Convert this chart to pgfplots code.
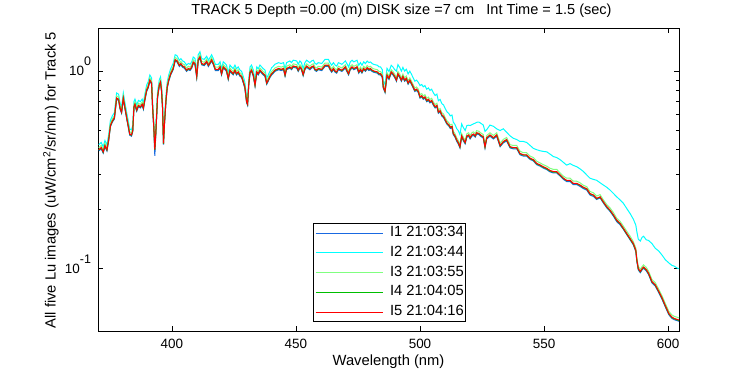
\documentclass[border=0pt]{standalone}
\usepackage{pgfplots}
\pgfplotsset{compat=1.18}
\usepackage{pgfplotstable}
\usepackage{fontspec}
\setmainfont{Liberation Sans}
\definecolor{cI1}{RGB}{25,105,225}
\definecolor{cI2}{RGB}{0,255,255}
\definecolor{cI3}{RGB}{128,255,128}
\definecolor{cI4}{RGB}{0,190,0}
\definecolor{cI5}{RGB}{255,0,0}
\pgfplotstableread{
wl a b c d e
370.5 0.394 0.424 0.410 0.398 0.40
371.5 0.404 0.435 0.420 0.408 0.41
372.3 0.384 0.413 0.400 0.388 0.39
373.0 0.414 0.445 0.431 0.418 0.42
373.8 0.394 0.424 0.410 0.398 0.40
374.5 0.443 0.477 0.461 0.448 0.45
375.2 0.522 0.562 0.543 0.527 0.53
376.0 0.552 0.594 0.574 0.557 0.56
376.8 0.571 0.615 0.595 0.577 0.58
377.7 0.719 0.774 0.748 0.726 0.73
378.5 0.709 0.763 0.738 0.716 0.72
379.1 0.640 0.689 0.666 0.647 0.65
379.7 0.611 0.657 0.636 0.617 0.62
380.4 0.719 0.774 0.748 0.726 0.73
381.0 0.650 0.700 0.677 0.657 0.66
381.9 0.561 0.604 0.584 0.567 0.57
383.0 0.473 0.509 0.492 0.478 0.48
383.7 0.468 0.504 0.487 0.473 0.475
384.2 0.493 0.530 0.513 0.498 0.50
384.7 0.650 0.700 0.677 0.657 0.66
385.1 0.670 0.721 0.697 0.677 0.68
385.8 0.625 0.673 0.651 0.632 0.635
386.5 0.660 0.710 0.687 0.667 0.67
387.3 0.650 0.700 0.677 0.657 0.66
388.0 0.670 0.721 0.697 0.677 0.68
388.5 0.640 0.689 0.666 0.647 0.65
389.0 0.699 0.753 0.728 0.706 0.71
389.8 0.788 0.848 0.820 0.796 0.80
390.4 0.818 0.880 0.851 0.826 0.83
391.1 0.887 0.954 0.923 0.896 0.90
391.8 0.857 0.922 0.892 0.866 0.87
392.2 0.650 0.700 0.677 0.657 0.66
392.7 0.512 0.551 0.533 0.517 0.52
393.1 0.372 0.424 0.410 0.398 0.40
393.5 0.478 0.514 0.497 0.483 0.485
394.2 0.729 0.784 0.759 0.736 0.74
394.9 0.837 0.901 0.871 0.846 0.85
395.4 0.867 0.933 0.902 0.876 0.88
395.8 0.788 0.848 0.820 0.796 0.80
396.2 0.650 0.700 0.677 0.657 0.66
396.6 0.424 0.456 0.441 0.428 0.43
397.0 0.537 0.578 0.559 0.542 0.545
397.6 0.699 0.753 0.728 0.706 0.71
398.1 0.818 0.880 0.851 0.826 0.83
398.7 0.887 0.954 0.923 0.896 0.90
399.5 0.955 1.028 0.994 0.965 0.97
400.5 1.015 1.092 1.056 1.025 1.03
401.3 1.123 1.208 1.169 1.134 1.14
402.0 1.113 1.198 1.158 1.124 1.13
403.0 1.054 1.134 1.097 1.065 1.07
403.6 1.074 1.155 1.117 1.085 1.09
404.3 1.044 1.124 1.087 1.055 1.06
405.0 1.034 1.113 1.076 1.045 1.05
405.9 0.995 1.071 1.035 1.005 1.01
406.6 1.015 1.092 1.056 1.025 1.03
407.3 1.005 1.081 1.046 1.015 1.02
408.0 1.034 1.113 1.076 1.045 1.05
408.6 1.093 1.177 1.138 1.104 1.11
409.3 1.074 1.155 1.117 1.085 1.09
410.0 0.926 0.996 0.964 0.935 0.94
410.6 1.123 1.208 1.169 1.134 1.14
411.3 1.162 1.251 1.210 1.174 1.18
412.0 1.074 1.155 1.117 1.085 1.09
413.0 1.064 1.145 1.107 1.075 1.08
414.0 1.103 1.187 1.148 1.114 1.12
414.7 1.054 1.134 1.097 1.065 1.07
415.3 1.084 1.166 1.128 1.095 1.10
416.0 1.123 1.208 1.169 1.134 1.14
416.7 1.074 1.155 1.117 1.085 1.09
417.5 1.005 1.081 1.046 1.015 1.02
418.7 1.005 1.081 1.046 1.015 1.02
419.4 1.034 1.113 1.076 1.045 1.05
420.0 0.955 1.028 0.994 0.965 0.97
420.7 1.034 1.113 1.076 1.045 1.05
421.4 1.015 1.092 1.056 1.025 1.03
422.0 0.995 1.071 1.035 1.005 1.01
422.7 0.906 0.975 0.943 0.915 0.92
423.4 0.995 1.071 1.035 1.005 1.01
424.0 0.975 1.049 1.015 0.985 0.99
424.7 0.955 1.028 0.994 0.965 0.97
425.4 0.995 1.071 1.035 1.005 1.01
426.0 0.955 1.028 0.994 0.965 0.97
426.7 0.975 1.049 1.015 0.985 0.99
427.4 0.941 1.012 0.979 0.950 0.955
428.1 0.926 0.996 0.964 0.935 0.94
428.8 0.867 0.933 0.902 0.876 0.88
429.4 0.818 0.880 0.851 0.826 0.83
430.1 0.690 0.742 0.718 0.697 0.70
430.5 0.670 0.721 0.697 0.677 0.68
431.0 0.857 0.922 0.892 0.866 0.87
431.5 0.975 1.049 1.015 0.985 0.99
432.1 0.995 1.071 1.035 1.005 1.01
432.8 0.941 1.012 0.979 0.950 0.955
433.5 0.837 0.901 0.871 0.846 0.85
434.2 0.975 1.049 1.015 0.985 0.99
434.8 0.955 1.028 0.994 0.965 0.97
435.5 0.995 1.071 1.035 1.005 1.01
436.8 0.955 1.028 0.994 0.965 0.97
437.5 0.941 1.012 0.979 0.950 0.955
438.2 0.857 0.922 0.892 0.866 0.87
438.8 0.887 0.954 0.923 0.896 0.90
439.5 0.926 0.996 0.964 0.935 0.94
440.2 0.955 1.038 0.994 0.965 0.97
440.9 0.975 1.059 1.015 0.985 0.99
441.5 0.995 1.081 1.035 1.005 1.01
443.0 1.015 1.102 1.056 1.025 1.03
444.0 1.005 1.091 1.046 1.015 1.02
445.0 1.015 1.102 1.056 1.025 1.03
445.6 0.941 1.022 0.979 0.950 0.955
446.2 1.015 1.102 1.056 1.025 1.03
447.5 1.034 1.124 1.076 1.045 1.05
448.2 1.015 1.102 1.056 1.025 1.03
448.9 1.044 1.134 1.087 1.055 1.06
450.3 1.034 1.124 1.076 1.045 1.05
450.9 0.995 1.081 1.035 1.005 1.01
451.6 1.034 1.124 1.076 1.045 1.05
452.2 1.015 1.102 1.056 1.025 1.03
452.9 0.946 1.027 0.984 0.955 0.96
453.6 1.015 1.102 1.056 1.025 1.03
454.3 1.044 1.134 1.087 1.055 1.06
455.6 1.015 1.102 1.056 1.025 1.03
456.3 1.034 1.124 1.076 1.045 1.05
457.0 1.044 1.134 1.087 1.055 1.06
457.7 1.005 1.091 1.046 1.015 1.02
458.3 0.995 1.081 1.035 1.005 1.01
459.0 1.015 1.102 1.056 1.025 1.03
460.4 1.005 1.091 1.046 1.015 1.02
461.7 1.054 1.145 1.097 1.065 1.07
463.1 1.054 1.145 1.097 1.065 1.07
463.7 1.015 1.102 1.056 1.025 1.03
464.4 0.985 1.070 1.025 0.995 1.00
465.1 1.015 1.102 1.056 1.025 1.03
465.8 0.985 1.070 1.025 0.995 1.00
466.4 0.975 1.059 1.015 0.985 0.99
467.1 1.015 1.102 1.056 1.025 1.03
468.5 0.995 1.081 1.035 1.005 1.01
469.2 1.015 1.102 1.056 1.025 1.03
469.9 1.034 1.124 1.076 1.045 1.05
470.5 0.995 1.091 1.035 1.005 1.01
471.2 0.955 1.048 0.994 0.965 0.97
471.9 1.015 1.112 1.056 1.025 1.03
472.6 1.034 1.134 1.076 1.045 1.05
473.3 1.015 1.112 1.056 1.025 1.03
474.6 1.034 1.134 1.076 1.045 1.05
475.3 0.975 1.069 1.015 0.985 0.99
476.0 1.005 1.102 1.046 1.015 1.02
476.6 0.975 1.069 1.015 0.985 0.99
477.3 1.015 1.112 1.056 1.025 1.03
478.0 0.995 1.091 1.035 1.005 1.01
478.7 1.024 1.123 1.066 1.035 1.04
479.4 1.005 1.102 1.046 1.015 1.02
480.0 1.015 1.112 1.056 1.025 1.03
480.7 0.995 1.091 1.035 1.005 1.01
481.4 0.985 1.080 1.025 0.995 1.00
482.8 0.975 1.069 1.015 0.985 0.99
483.5 0.955 1.048 0.994 0.965 0.97
484.1 0.955 1.048 0.994 0.965 0.97
484.8 0.926 1.015 0.964 0.935 0.94
485.2 0.818 0.896 0.851 0.826 0.83
485.9 0.778 0.853 0.810 0.786 0.79
486.3 0.857 0.940 0.892 0.866 0.87
486.7 0.941 1.031 0.979 0.950 0.955
487.5 0.906 0.994 0.943 0.915 0.92
488.4 0.975 1.069 1.015 0.985 0.99
489.1 0.955 1.048 0.994 0.965 0.97
489.8 0.926 1.015 0.964 0.935 0.94
490.5 0.887 0.999 0.923 0.896 0.90
491.1 0.955 1.077 0.994 0.965 0.97
491.8 0.926 1.043 0.964 0.935 0.94
492.5 0.887 0.999 0.923 0.896 0.90
493.1 0.926 1.043 0.964 0.935 0.94
493.8 0.887 0.999 0.923 0.896 0.90
494.5 0.906 1.021 0.943 0.915 0.92
495.2 0.857 0.966 0.892 0.866 0.87
495.9 0.887 0.999 0.923 0.896 0.90
496.6 0.852 0.960 0.887 0.861 0.865
497.3 0.818 0.921 0.851 0.826 0.83
497.9 0.788 0.888 0.820 0.796 0.80
498.6 0.798 0.899 0.830 0.806 0.81
499.3 0.778 0.877 0.810 0.786 0.79
500.0 0.729 0.844 0.759 0.736 0.74
500.7 0.739 0.855 0.769 0.746 0.75
501.3 0.719 0.832 0.748 0.726 0.73
502.0 0.729 0.844 0.759 0.736 0.74
502.7 0.699 0.809 0.728 0.706 0.71
503.4 0.709 0.821 0.738 0.716 0.72
504.0 0.690 0.798 0.718 0.697 0.70
504.7 0.699 0.809 0.728 0.706 0.71
505.4 0.670 0.775 0.697 0.677 0.68
506.1 0.650 0.752 0.677 0.657 0.66
506.8 0.660 0.764 0.687 0.667 0.67
507.4 0.611 0.707 0.636 0.617 0.62
508.1 0.621 0.718 0.646 0.627 0.63
508.8 0.591 0.684 0.615 0.597 0.60
509.5 0.581 0.673 0.605 0.587 0.59
510.2 0.557 0.644 0.579 0.562 0.565
510.9 0.537 0.621 0.559 0.542 0.545
511.6 0.527 0.610 0.548 0.532 0.535
512.2 0.512 0.593 0.533 0.517 0.52
512.9 0.517 0.599 0.538 0.522 0.525
513.4 0.477 0.552 0.496 0.482 0.484
514.1 0.463 0.536 0.482 0.468 0.47
514.8 0.441 0.511 0.459 0.446 0.448
515.4 0.428 0.500 0.446 0.433 0.435
516.1 0.408 0.476 0.424 0.412 0.414
516.8 0.463 0.540 0.482 0.468 0.47
517.5 0.443 0.517 0.461 0.448 0.45
518.2 0.428 0.500 0.446 0.433 0.435
518.9 0.463 0.530 0.482 0.468 0.47
519.6 0.468 0.532 0.487 0.473 0.475
520.2 0.453 0.530 0.472 0.458 0.46
520.9 0.468 0.535 0.487 0.473 0.475
521.5 0.473 0.540 0.492 0.478 0.48
522.3 0.463 0.545 0.482 0.468 0.47
522.8 0.480 0.550 0.499 0.485 0.487
523.7 0.477 0.552 0.496 0.482 0.484
524.4 0.468 0.545 0.487 0.473 0.475
525.5 0.458 0.533 0.477 0.463 0.465
526.2 0.408 0.495 0.424 0.412 0.414
526.9 0.453 0.505 0.472 0.458 0.46
528.2 0.468 0.533 0.487 0.473 0.475
529.6 0.453 0.525 0.472 0.458 0.46
530.9 0.468 0.510 0.487 0.473 0.475
532.3 0.414 0.500 0.431 0.418 0.42
533.6 0.433 0.510 0.451 0.438 0.44
534.9 0.443 0.490 0.461 0.448 0.45
536.3 0.408 0.470 0.424 0.412 0.414
537.6 0.404 0.457 0.420 0.408 0.41
539.0 0.404 0.450 0.420 0.408 0.41
540.3 0.377 0.440 0.393 0.381 0.383
541.7 0.371 0.440 0.386 0.375 0.377
543.0 0.371 0.435 0.386 0.375 0.377
544.4 0.357 0.420 0.371 0.360 0.362
545.7 0.351 0.406 0.365 0.354 0.356
547.0 0.336 0.400 0.350 0.339 0.341
548.4 0.330 0.395 0.343 0.333 0.335
549.7 0.323 0.392 0.336 0.326 0.328
551.1 0.317 0.390 0.330 0.320 0.322
552.4 0.309 0.380 0.322 0.312 0.314
553.8 0.305 0.369 0.318 0.308 0.31
555.1 0.305 0.365 0.318 0.308 0.31
556.5 0.294 0.356 0.305 0.297 0.298
557.8 0.283 0.345 0.294 0.286 0.287
559.1 0.276 0.334 0.287 0.279 0.28
560.5 0.276 0.340 0.287 0.279 0.28
561.8 0.266 0.333 0.277 0.269 0.27
563.2 0.266 0.328 0.277 0.269 0.27
564.5 0.261 0.320 0.272 0.264 0.265
565.9 0.254 0.310 0.264 0.257 0.258
567.2 0.250 0.298 0.260 0.253 0.254
568.5 0.236 0.287 0.246 0.239 0.24
569.9 0.232 0.283 0.242 0.235 0.236
571.2 0.224 0.280 0.233 0.226 0.227
572.6 0.228 0.272 0.237 0.230 0.231
573.9 0.215 0.265 0.223 0.217 0.218
575.3 0.203 0.258 0.211 0.205 0.206
576.6 0.195 0.250 0.203 0.197 0.198
578.0 0.184 0.240 0.192 0.186 0.187
579.3 0.173 0.231 0.180 0.175 0.176
580.6 0.167 0.223 0.174 0.169 0.170
582.0 0.158 0.214 0.164 0.159 0.160
583.3 0.149 0.202 0.155 0.150 0.151
584.7 0.140 0.190 0.146 0.141 0.142
586.0 0.132 0.178 0.137 0.133 0.134
587.0 0.122 0.166 0.127 0.123 0.124
587.4 0.109 0.154 0.114 0.110 0.111
588.0 0.0985 0.141 0.1025 0.0995 0.100
588.8 0.0955 0.138 0.0994 0.0965 0.097
589.5 0.0985 0.144 0.1025 0.0995 0.100
590.1 0.1005 0.146 0.1046 0.1015 0.102
591.2 0.0975 0.140 0.1015 0.0985 0.099
592.1 0.0936 0.139 0.0974 0.0945 0.095
593.5 0.0847 0.134 0.0882 0.0856 0.086
594.8 0.0818 0.127 0.0851 0.0826 0.083
596.2 0.0758 0.123 0.0789 0.0766 0.077
597.6 0.0699 0.117 0.0728 0.0706 0.071
598.9 0.0640 0.111 0.0666 0.0647 0.065
600.3 0.0585 0.107 0.0609 0.0591 0.0594
601.5 0.0561 0.104 0.0584 0.0567 0.057
602.5 0.0552 0.103 0.0574 0.0557 0.056
603.5 0.0547 0.101 0.0569 0.0552 0.0555
604.4 0.0542 0.100 0.0564 0.0547 0.055
}\spectab
\begin{document}
\begin{tikzpicture}
\path[use as bounding box] (0,0) rectangle (750bp,375bp);
\begin{axis}[
  at={(98bp,44bp)}, anchor=south west,
  scale only axis, width=581bp, height=303bp,
  xmin=370.2, xmax=604.4,
  ymode=log, ymin=0.04841, ymax=1.65,
  xtick={400,450,500,550,600},
  ytick={0.1,1},
  yticklabels={{10\raisebox{10bp}[0pt][0pt]{\fontsize{12.5}{12.5}\selectfont -1}},{10\raisebox{10bp}[0pt][0pt]{\fontsize{12.5}{12.5}\selectfont 0}}},
  /pgf/number format/assume math mode=true,
  /pgf/number format/1000 sep={},
  tick label style={font=\fontsize{13.5}{16}\selectfont, black},
  xticklabel style={yshift=-5bp},
  yticklabel style={xshift=-3.5bp},
  major tick length=5bp, minor tick length=3bp,
  every tick/.style={black, line width=0.8bp},
  axis line style={black, line width=0.8bp},
  tick align=inside,
  title={TRACK 5 Depth =0.00 (m) DISK size =7 cm\ \ \ Int Time = 1.5 (sec)},
  title style={at={(axis description cs:0.5224,1.0264)}, anchor=base, font=\fontsize{14.6}{17}\selectfont, inner sep=0pt},
  xlabel={Wavelength (nm)},
  xlabel style={at={(axis description cs:0.5,-0.1122)}, anchor=base, font=\fontsize{14.8}{17}\selectfont, inner sep=0pt},
  ylabel={All five Lu images (uW/cm\textsuperscript{2}/sr/nm) for Track 5},
  ylabel style={at={(axis description cs:-0.0731,0.498)}, anchor=base, font=\fontsize{14.8}{17}\selectfont, inner sep=0pt},
  legend cell align=left,
  legend image code/.code={\path (-9bp,0bp) -- (0bp,0bp); \draw[#1] (0bp,0bp) -- (58bp,0bp);},
  legend style={at={(axis description cs:0.5017,0.0297)}, anchor=south, draw=black, line width=0.8bp, fill=white,
    inner xsep=2bp, inner ysep=2bp, row sep=4.75bp, column sep=7bp,
    font=\fontsize{14.8}{17}\selectfont,
    nodes={inner sep=0pt, text height=11bp, text depth=4bp}},
]
\addplot[cI1, line width=1bp] table[x=wl, y=a] {\spectab};
\addlegendentry{I1 21:03:34}
\addplot[cI2, line width=1bp] table[x=wl, y=b] {\spectab};
\addlegendentry{I2 21:03:44}
\addplot[cI3, line width=1bp] table[x=wl, y=c] {\spectab};
\addlegendentry{I3 21:03:55}
\addplot[cI4, line width=1bp] table[x=wl, y=d] {\spectab};
\addlegendentry{I4 21:04:05}
\addplot[cI5, line width=1bp] table[x=wl, y=e] {\spectab};
\addlegendentry{I5 21:04:16}
\end{axis}
\end{tikzpicture}
\end{document}
